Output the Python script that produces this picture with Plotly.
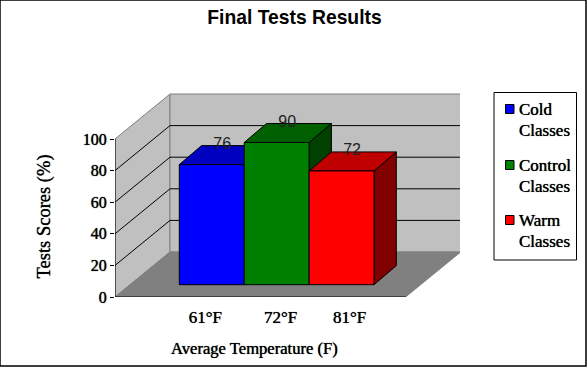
import plotly.graph_objects as go

# ---- data ----
categories = ["61°F", "72°F", "81°F"]
series_names = ["Cold Classes", "Control Classes", "Warm Classes"]
scores = [76, 90, 72]
y_ticks = [0, 20, 40, 60, 80, 100]
y_grid = [20, 40, 60, 80]
front_colors = ["#0000FF", "#008000", "#FF0000"]
top_colors = ["#0000C0", "#006000", "#C00000"]
side_colors = ["#000080", "#004000", "#800000"]
legend_lines = [["Cold", "Classes"], ["Control", "Classes"], ["Warm", "Classes"]]

# ---- 3-D projection settings (data units) ----
W, H = 587, 367
ML, MR, MT, MB = 115, 127, 90, 70
PX_PER_X, PX_PER_Y = 64.9, 1.58
XMIN = -0.5 - (179.3 - ML) / PX_PER_X
XMAX = XMIN + (W - ML - MR) / PX_PER_X
YMAX = (H - MT - MB) / PX_PER_Y
WALL_DX, WALL_DY = 55 / PX_PER_X, 45 / PX_PER_Y
FLOOR_RIGHT = XMIN + 290.6 / PX_PER_X
BAR_BASE = 12.3 / PX_PER_Y
BAR_DX, BAR_DY = 22.3 / PX_PER_X, 19 / PX_PER_Y
TOP = 100

SERIF = "Liberation Serif"
SANS = "Liberation Sans"
HEAVY = "0 0 0.7px black"
fig = go.Figure()


def poly(xs, ys, fill, line="#808080", lw=1, name=None):
    fig.add_trace(go.Scatter(
        x=xs + xs[:1], y=ys + ys[:1], mode="lines", fill="toself", fillcolor=fill,
        line=dict(color=line, width=lw), hoverinfo="skip", showlegend=False, cliponaxis=False))


def seg(xs, ys, color="black", lw=1):
    fig.add_trace(go.Scatter(x=xs, y=ys, mode="lines", line=dict(color=color, width=lw),
                             hoverinfo="skip", showlegend=False, cliponaxis=False))


# walls and floor
bx0, bx1 = XMIN + WALL_DX, FLOOR_RIGHT + WALL_DX
poly([XMIN, bx0, bx0, XMIN], [TOP, TOP + WALL_DY, WALL_DY, 0], "#C0C0C0")
poly([bx0, bx1, bx1, bx0], [WALL_DY, WALL_DY, TOP + WALL_DY, TOP + WALL_DY], "#C0C0C0")
poly([XMIN, FLOOR_RIGHT, bx1, bx0], [0, 0, WALL_DY, WALL_DY], "#808080")

# gridlines on side and back wall
for g in y_grid:
    seg([XMIN, bx0, bx1], [g, g + WALL_DY, g + WALL_DY])

# axis lines
seg([XMIN, XMIN], [0, TOP])
seg([XMIN, FLOOR_RIGHT], [0, 0], "black", 1.2)
seg([FLOOR_RIGHT, FLOOR_RIGHT], [0, -2.5], "black", 1)
seg([XMIN, XMIN], [0, -2.5], "black", 1)

# bar tops and sides
for i, v in enumerate(scores):
    l, r, t = i - 0.5, i + 0.5, v + BAR_BASE
    poly([r, r + BAR_DX, r + BAR_DX, r], [BAR_BASE, BAR_BASE + BAR_DY, t + BAR_DY, t], side_colors[i], "black")
    poly([l, r, r + BAR_DX, l + BAR_DX], [t, t, t + BAR_DY, t + BAR_DY], top_colors[i], "black")

# value labels
fig.add_trace(go.Scatter(
    x=[i + 0.5 * BAR_DX - 0.01 for i in range(len(scores))],
    y=[v + BAR_BASE + 12.6 for v in scores],
    mode="text", text=[str(v) for v in scores],
    textfont=dict(family=SANS, size=16, color="#222222"),
    textposition="middle center", hoverinfo="skip", showlegend=False, cliponaxis=False))

# bar fronts, on an overlay subplot so they sit above every side face
for i, v in enumerate(scores):
    fig.add_trace(go.Bar(x=[i], y=[v], base=BAR_BASE, width=1, name=series_names[i],
                         marker=dict(color=front_colors[i], line=dict(color="black", width=1)),
                         xaxis="x2", yaxis="y2", showlegend=False))

label_nudge = [-0.10, 0.06, 0.125]
fig.update_layout(
    width=W, height=H, margin=dict(l=ML, r=MR, t=MT, b=MB, pad=0),
    paper_bgcolor="white", plot_bgcolor="rgba(0,0,0,0)", showlegend=False,
    title=dict(text="<b>Final Tests Results</b>", x=294.5 / W, xanchor="center", y=1 - 17.5 / H, yanchor="middle",
               font=dict(family=SANS, size=19.3, color="black")),
    xaxis=dict(range=[XMIN, XMAX], tickmode="array", tickvals=[i + n for i, n in enumerate(label_nudge)],
               ticktext=categories, ticks="", showgrid=False, zeroline=False,
               showline=False, ticklabelstandoff=8, tickfont=dict(family=SERIF, size=17, color="black", shadow=HEAVY)),
    yaxis=dict(range=[0, YMAX], tickmode="array", tickvals=y_ticks,
               ticktext=[str(t) for t in y_ticks], ticks="outside", ticklen=4, tickcolor="black",
               tickwidth=1, showgrid=False, zeroline=False, showline=False,
               tickfont=dict(family=SERIF, size=16, color="black", shadow="0 0 1px black")),
    xaxis2=dict(range=[XMIN, XMAX], overlaying="x", visible=False),
    yaxis2=dict(range=[0, YMAX], overlaying="y", visible=False),
)

shapes = [
    dict(type="rect", xref="paper", yref="paper", x0=-115 / (W - ML - MR), x1=1 + (MR - 1) / (W - ML - MR),
         y0=-(MB - 1) / (H - MT - MB), y1=1 + (MT) / (H - MT - MB), line=dict(color="black", width=1.5)),
]


def px(x):
    return (x - ML) / (W - ML - MR)


def py(y):
    return (H - MB - y) / (H - MT - MB)


shapes.append(dict(type="rect", xref="paper", yref="paper", x0=px(494), x1=px(576.5), y0=py(260), y1=py(92.5),
                   line=dict(color="black", width=1), fillcolor="white"))
ann = []
legend_y = [109, 165, 220]
for color, lines, y in zip(front_colors, legend_lines, legend_y):
    shapes.append(dict(type="rect", xref="paper", yref="paper", x0=px(505.5), x1=px(514), y0=py(y + 4.5), y1=py(y - 4.5),
                       fillcolor=color, line=dict(color="black", width=1)))
    for j, t in enumerate(lines):
        ann.append(dict(text=t, x=px(517), y=py(y + j * 21.5), xref="paper", yref="paper",
                        xanchor="left", yanchor="middle", showarrow=False,
                        font=dict(family=SERIF, size=17, color="black", shadow=HEAVY)))
ann.append(dict(text="Average Temperature (F)", x=px(254.5), y=py(348), xref="paper", yref="paper",
                xanchor="center", yanchor="middle", showarrow=False,
                font=dict(family=SERIF, size=16.6, color="black", shadow=HEAVY)))
ann.append(dict(text="Tests Scores (%)", x=px(44), y=py(216.5), xref="paper", yref="paper",
                xanchor="center", yanchor="middle", textangle=-90, showarrow=False,
                font=dict(family=SERIF, size=18.5, color="black", shadow=HEAVY)))
fig.update_layout(shapes=shapes, annotations=ann)

fig.write_html("out.html", config=dict(displayModeBar=False),
               post_script="document.body.style.margin='0';")
